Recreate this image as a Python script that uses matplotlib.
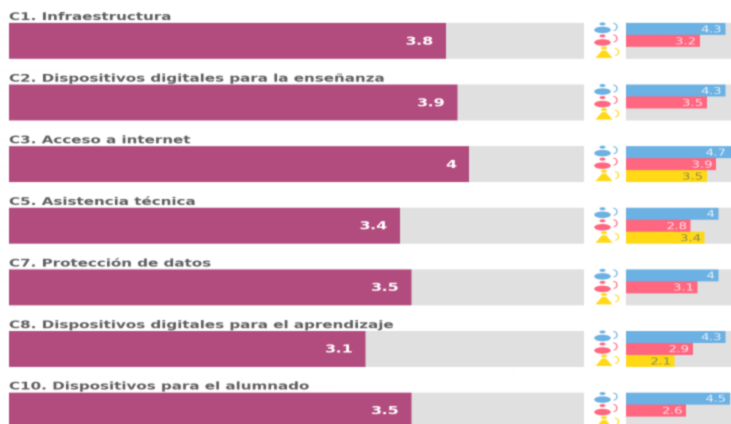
import matplotlib
matplotlib.use("Agg")
import numpy as np
import matplotlib.pyplot as plt
from matplotlib.patches import Ellipse, Polygon, Arc

titles = ["C1. Infraestructura", "C2. Dispositivos digitales para la enseñanza",
          "C3. Acceso a internet", "C5. Asistencia técnica", "C7. Protección de datos",
          "C8. Dispositivos digitales para el aprendizaje", "C10. Dispositivos para el alumnado"]
overall = [3.8, 3.9, 4, 3.4, 3.5, 3.1, 3.5]
overall_labels = ["3.8", "3.9", "4", "3.4", "3.5", "3.1", "3.5"]
blue = [4.3, 4.3, 4.7, 4, 4, 4.3, 4.5]
pink = [3.2, 3.5, 3.9, 2.8, 3.1, 2.9, 2.6]
yellow = [None, None, 3.5, 3.4, None, 2.1, None]
blue_labels = ["4.3", "4.3", "4.7", "4", "4", "4.3", "4.5"]
pink_labels = ["3.2", "3.5", "3.9", "2.8", "3.1", "2.9", "2.6"]
yellow_labels = ["", "", "3.5", "3.4", "", "2.1", ""]
SCALE_MAX = 5

PURPLE, GRAY, BLUE, PINK, YELLOW = "#B24C7F", "#E0E0E0", "#6BB1E3", "#FF6680", "#FFD916"
W, H = 731, 424
STRETCH = 1.42          # the reference is squashed vertically; draw tall, then resample
ROW = 61.6
C0 = 41.0
BAR_H = 36 / ROW

fig = plt.figure(figsize=(W / 100, H * STRETCH / 100), dpi=200, facecolor="white")


def make_ax(x0, x1, xlim):
    ax = fig.add_axes([x0 / W, 0, (x1 - x0) / W, 1])
    ax.set_xlim(*xlim)
    ax.set_ylim((H - C0) / ROW, -C0 / ROW)
    ax.axis("off")
    return ax


rows = list(range(len(titles)))
big = make_ax(9, 584, (0, SCALE_MAX))
small = make_ax(626, 731, (0, 105 / 23.1))
icons = make_ax(590, 626, (590, 626))
px = 1 / ROW

big.barh(rows, [SCALE_MAX] * len(rows), height=BAR_H, color=GRAY)
big.barh(rows, overall, height=BAR_H, color=PURPLE)
for i, (v, lab, t) in enumerate(zip(overall, overall_labels, titles)):
    big.text(v - 0.107, i + 0.6 * px, lab, color="white", fontsize=11.5, fontweight="bold",
             ha="right", va="center", family="DejaVu Sans")
    big.text(0, i - 0.341, t, color="#5f5f5f", fontsize=10.9, fontweight="bold",
             ha="left", va="baseline", family="DejaVu Sans")

h = BAR_H / 3
small.barh(rows, [SCALE_MAX] * len(rows), height=BAR_H, color=GRAY)
for series, labels, color, off, tc in [(blue, blue_labels, BLUE, -h, "#E6F1FA"),
                                       (pink, pink_labels, PINK, 0, "#FFE3E8"),
                                       (yellow, yellow_labels, YELLOW, h, "#8A8A55")]:
    for i, (v, lab) in enumerate(zip(series, labels)):
        if v is None:
            continue
        small.barh(i + off, v, height=h, color=color)
        small.text(min(v, 4.5) - 0.16, i + off + 0.8 * px, lab, color=tc, fontsize=9.5,
                   ha="right", va="center", clip_on=True)


def oval_icon(cy, color, head_dy, arc_dy):
    icons.add_patch(Ellipse((602.5, cy), 16.5, 6.5 * px, color=color, lw=0))
    icons.add_patch(Ellipse((602.5, cy + head_dy * px), 6, 3 * px, color=color, lw=0))
    icons.add_patch(Arc((613.5, cy + arc_dy * px), 7, 7 * px, theta1=190, theta2=40,
                        color=color, lw=0.9))


def triangle_icon(cy, color):
    icons.add_patch(Polygon([(595.5, cy + 5 * px), (612.5, cy + 5 * px), (606, cy - 2.5 * px),
                             (602, cy - 2.5 * px)], color=color, lw=0))
    icons.add_patch(Ellipse((604, cy - 5 * px), 6, 3 * px, color=color, lw=0))
    icons.add_patch(Arc((615, cy - 1 * px), 7, 7 * px, theta1=190, theta2=40,
                        color=color, lw=0.9))


for i in rows:
    oval_icon(i - 11 * px, BLUE, -6, -3)
    oval_icon(i + 1.5 * px, PINK, -6.5, -4)
    triangle_icon(i + 12 * px, YELLOW)

# Draw the figure, then resample it to the final squashed size with a slight softening.
fig.savefig("out.png", dpi=200, facecolor="white")
img = plt.imread("out.png")[..., :3].astype(float)


def resample(a, n, axis):
    a = np.moveaxis(a, axis, 0)
    c = np.concatenate([np.zeros((1,) + a.shape[1:]), np.cumsum(a, axis=0)], axis=0)
    edges = np.linspace(0, a.shape[0], n + 1)
    i0 = np.clip(np.floor(edges).astype(int), 0, a.shape[0] - 1)
    frac = (edges - i0).reshape((-1,) + (1,) * (a.ndim - 1))
    cum = c[i0] + frac * a[i0]
    out = (cum[1:] - cum[:-1]) / (edges[1] - edges[0])
    return np.moveaxis(out, 0, axis)


def soften(a, axis):
    a = np.moveaxis(a, axis, 0)
    p = np.concatenate([a[:1], a, a[-1:]], axis=0)
    out = 0.2 * p[:-2] + 0.6 * p[1:-1] + 0.2 * p[2:]
    return np.moveaxis(out, 0, axis)


img = resample(resample(img, H, 0), W, 1)
img = np.clip(soften(soften(img, 0), 1), 0, 1)
plt.imsave("out.png", img)
